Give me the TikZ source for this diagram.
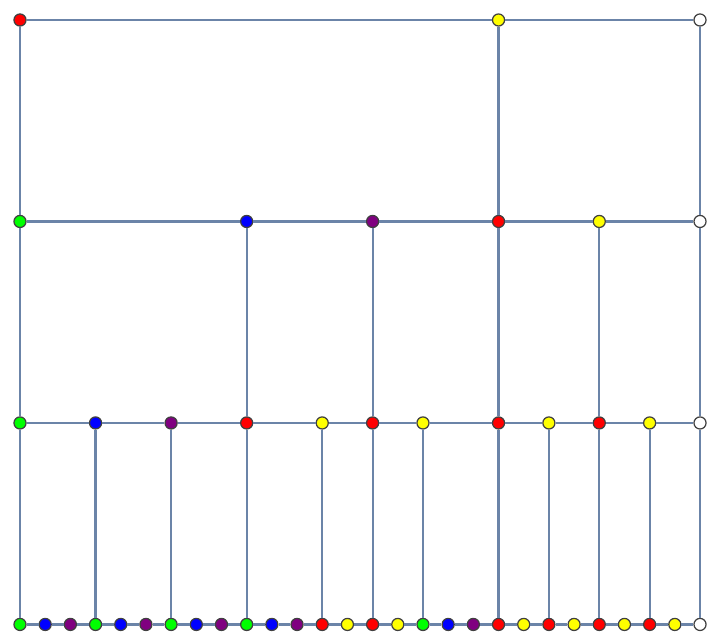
\documentclass[tikz,border=0pt]{standalone}
\usepackage{tikz}
\definecolor{vGreen}{HTML}{00FF00}
\definecolor{vBlue}{HTML}{0000FF}
\definecolor{vPurple}{HTML}{800080}
\definecolor{vRed}{HTML}{FF0000}
\definecolor{vYellow}{HTML}{FFFF00}
\definecolor{edgeC}{HTML}{6B84A8}

\begin{document}
\begin{tikzpicture}[x=5mm, y=5mm,
 vtx/.style={circle, draw=black!75, line width=0.7pt, minimum size=2.4mm, inner sep=0pt},
 ed/.style={edgeC, line width=1.2pt},
]
 \useasboundingbox (-0.794,-0.77) rectangle (27.794,24.794);

 % bottom row
 \foreach \c [count=\i from 0] in {vGreen,vBlue,vPurple,vGreen,vBlue,vPurple,vGreen,vBlue,vPurple,vGreen,vBlue,vPurple,
   vRed,vYellow,vRed,vYellow,vGreen,vBlue,vPurple,vRed,vYellow,vRed,vYellow,vRed,vYellow,vRed,vYellow,white}
   \node[vtx, fill=\c] (b\i) at (\i,0) {};
 % third row
 \foreach \k/\c in {0/vGreen,3/vBlue,6/vPurple,9/vRed,12/vYellow,14/vRed,16/vYellow,19/vRed,21/vYellow,23/vRed,25/vYellow,27/white}
   \node[vtx, fill=\c] (c\k) at (\k,8) {};
 % second row
 \foreach \k/\c in {0/vGreen,9/vBlue,14/vPurple,19/vRed,23/vYellow,27/white}
   \node[vtx, fill=\c] (m\k) at (\k,16) {};
 % top row
 \foreach \k/\c in {0/vRed,19/vYellow,27/white}
   \node[vtx, fill=\c] (t\k) at (\k,24) {};

 % horizontal edges
 \foreach \i [count=\j from 1] in {0,...,26}
   \draw[ed] (b\i) -- (b\j);
 \foreach \a/\b in {0/3,3/6,6/9,9/12,12/14,14/16,16/19,19/21,21/23,23/25,25/27}
   \draw[ed] (c\a) -- (c\b);
 \foreach \a/\b in {0/9,9/14,14/19,19/23,23/27}
   \draw[ed] (m\a) -- (m\b);
 \draw[ed] (t0) -- (t19);
 \draw[ed] (t19) -- (t27);

 % vertical edges
 \foreach \k in {0,3,6,9,12,14,16,19,21,23,25,27}
   \draw[ed] (c\k) -- (b\k);
 \foreach \k in {0,9,14,19,23,27}
   \draw[ed] (m\k) -- (c\k);
 \foreach \k in {0,19,27}
   \draw[ed] (t\k) -- (m\k);
\end{tikzpicture}
\end{document}
